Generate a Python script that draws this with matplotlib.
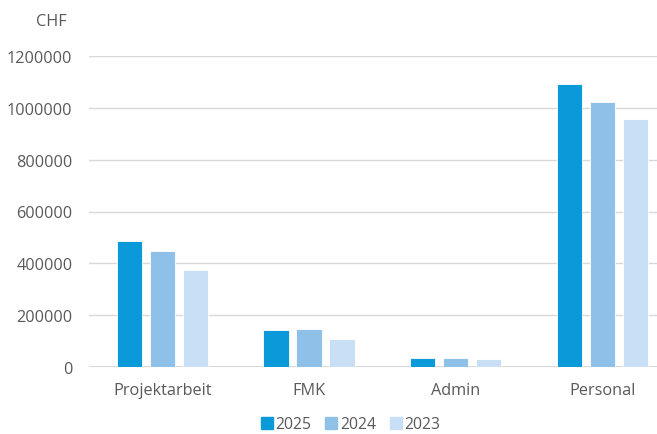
import matplotlib
matplotlib.use("Agg")
import matplotlib.pyplot as plt
import numpy as np
from matplotlib.lines import Line2D

categories = ["Projektarbeit", "FMK", "Admin", "Personal"]
years = ["2025", "2024", "2023"]
v2025 = [488000, 141000, 33000, 1092000]
v2024 = [446000, 146000, 33000, 1022000]
v2023 = [373000, 108000, 30000, 955000]
colors = ["#0a9ad9", "#8ec0e8", "#c9dff5"]
yticks = [0, 200000, 400000, 600000, 800000, 1000000, 1200000]

plt.rcParams['font.family'] = ['Open Sans', 'DejaVu Sans']
txt = "#595959"

fig = plt.figure(figsize=(6.57, 4.35), dpi=100)
ax = fig.add_axes([89/657, 67/435, 568/657, 311/435])

x = np.arange(len(categories))
step = 0.225
width = 0.172
for i, (vals, c) in enumerate(zip([v2025, v2024, v2023], colors)):
    ax.bar(x + (i - 1) * step, vals, width=width, color=c, edgecolor="white",
           linewidth=0.6, zorder=3)

ax.set_xlim(-0.5, 3.374)
ax.set_ylim(0, 1200000)
ax.set_yticks(yticks)
ax.set_yticklabels([str(t) for t in yticks])
ax.set_xticks(x)
ax.set_xticklabels(categories)
ax.grid(axis="y", color="#d9d9d9", linewidth=1.0, zorder=0)
for s in ["top", "right", "left", "bottom"]:
    ax.spines[s].set_visible(False)
ax.axhline(0, color="#d0d0d0", linewidth=1.2, zorder=2)
ax.tick_params(axis="both", length=0, labelsize=11.7, colors=txt)
ax.tick_params(axis="y", pad=12)
ax.tick_params(axis="x", pad=10.5)

fig.text(51/657, 1 - 22/435, "CHF", ha="center", va="center", fontsize=11.7, color=txt)

handles = [Line2D([0], [0], marker="s", linestyle="none", markersize=8,
                  markerfacecolor=c, markeredgecolor=c) for c in colors]
fig.legend(handles, years, loc="center", bbox_to_anchor=(350/657, 1 - 425/435),
           ncol=3, frameon=False, fontsize=11.3, labelcolor=txt,
           handletextpad=0.1, columnspacing=0.8, handlelength=0.9,
           borderpad=0.1)

fig.savefig("out.png", dpi=100)
